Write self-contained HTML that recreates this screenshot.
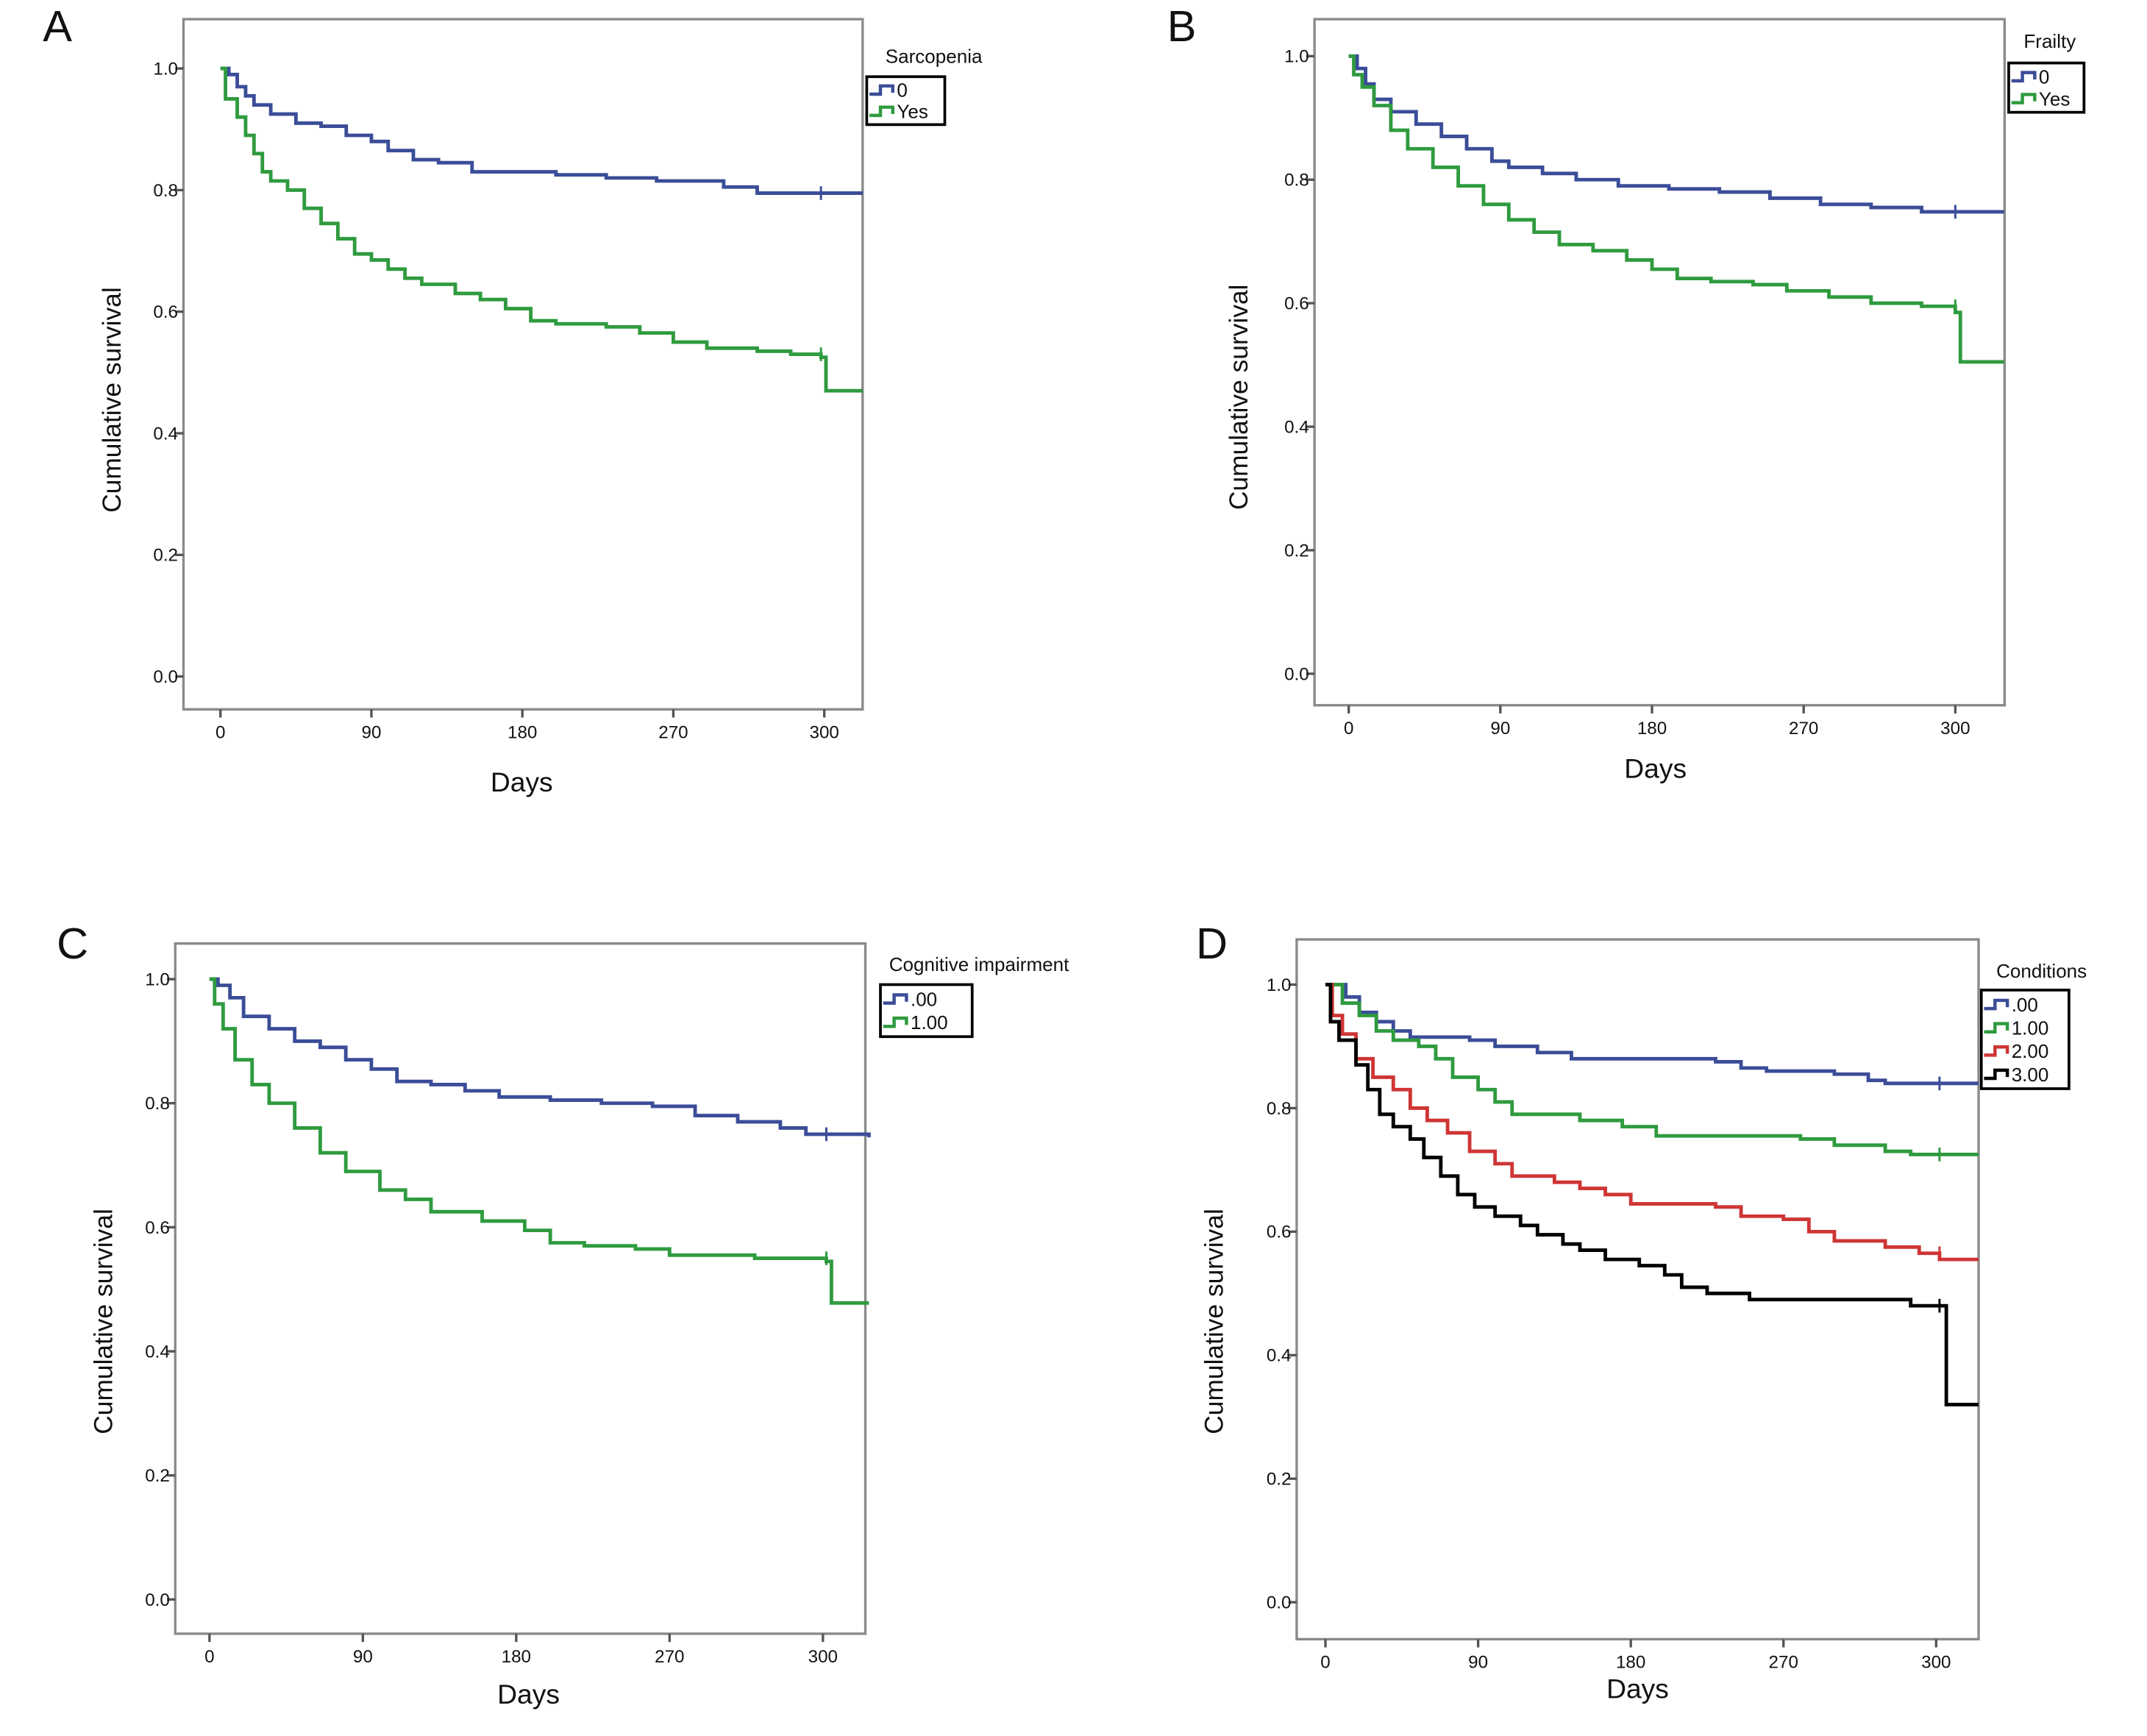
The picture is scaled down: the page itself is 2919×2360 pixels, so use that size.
<!DOCTYPE html>
<html><head><meta charset="utf-8"><style>
html,body{margin:0;padding:0;background:#fff;}
svg{display:block;}
text{font-family:"Liberation Sans",sans-serif;fill:#111;}
</style></head><body>
<svg id="fig" width="2919" height="2360" viewBox="0 0 1568 1267.7" preserveAspectRatio="none" xmlns="http://www.w3.org/2000/svg"></svg>
<script>
// ---- data (days, cumulative survival) ----
const tickValues = [0, 90, 180, 270, 360];
const tickLabels = ["0", "90", "180", "270", "300"];
const yTicks = [0.0, 0.2, 0.4, 0.6, 0.8, 1.0];
const yTickLabels = ["0.0", "0.2", "0.4", "0.6", "0.8", "1.0"];

const aNo = [[0,1],[5,0.99],[10,0.97],[15,0.955],[20,0.94],[30,0.925],[45,0.91],[60,0.905],[75,0.89],[90,0.88],[100,0.865],[115,0.85],[130,0.845],[150,0.83],[200,0.825],[230,0.82],[260,0.815],[300,0.805],[320,0.795],[383,0.795]];
const aYes = [[0,1],[3,0.95],[10,0.92],[15,0.89],[20,0.86],[25,0.83],[30,0.815],[40,0.8],[50,0.77],[60,0.745],[70,0.72],[80,0.695],[90,0.685],[100,0.67],[110,0.655],[120,0.645],[140,0.63],[155,0.62],[170,0.605],[185,0.585],[200,0.58],[230,0.575],[250,0.565],[270,0.55],[290,0.54],[320,0.535],[340,0.53],[358,0.525],[361,0.47],[383,0.47]];

const bNo = [[0,1],[5,0.98],[10,0.955],[15,0.93],[25,0.91],[40,0.89],[55,0.87],[70,0.85],[85,0.83],[95,0.82],[115,0.81],[135,0.80],[160,0.79],[190,0.785],[220,0.78],[250,0.77],[280,0.76],[310,0.755],[340,0.748],[389,0.748]];
const bYes = [[0,1],[3,0.97],[8,0.95],[15,0.92],[25,0.88],[35,0.85],[50,0.82],[65,0.79],[80,0.76],[95,0.735],[110,0.715],[125,0.695],[145,0.685],[165,0.67],[180,0.655],[195,0.64],[215,0.635],[240,0.63],[260,0.62],[285,0.61],[310,0.6],[340,0.595],[360,0.585],[363,0.505],[389,0.505]];

const cNo = [[0,1],[5,0.99],[12,0.97],[20,0.94],[35,0.92],[50,0.9],[65,0.89],[80,0.87],[95,0.855],[110,0.835],[130,0.83],[150,0.82],[170,0.81],[200,0.805],[230,0.80],[260,0.795],[285,0.78],[310,0.77],[335,0.76],[350,0.75],[387,0.745]];
const cYes = [[0,1],[3,0.96],[8,0.92],[15,0.87],[25,0.83],[35,0.80],[50,0.76],[65,0.72],[80,0.69],[100,0.66],[115,0.645],[130,0.625],[160,0.61],[185,0.595],[200,0.575],[220,0.57],[250,0.565],[270,0.555],[320,0.55],[362,0.545],[365,0.478],[387,0.478]];

const d0 = [[0,1],[8,1],[12,0.98],[20,0.955],[30,0.94],[40,0.925],[50,0.915],[85,0.91],[100,0.90],[125,0.89],[145,0.88],[230,0.875],[245,0.865],[260,0.86],[300,0.855],[320,0.845],[330,0.84],[385,0.84]];
const d1 = [[0,1],[10,0.97],[20,0.95],[30,0.925],[40,0.91],[55,0.90],[65,0.88],[75,0.85],[90,0.83],[100,0.81],[110,0.79],[150,0.78],[175,0.77],[195,0.755],[280,0.75],[300,0.74],[330,0.73],[345,0.725],[385,0.725]];
const d2 = [[0,1],[4,0.95],[10,0.92],[18,0.88],[28,0.85],[40,0.83],[50,0.80],[60,0.78],[72,0.76],[85,0.73],[100,0.71],[110,0.69],[135,0.68],[150,0.67],[165,0.66],[180,0.645],[230,0.64],[245,0.625],[270,0.62],[285,0.60],[300,0.585],[330,0.575],[350,0.565],[362,0.555],[385,0.555]];
const d3 = [[0,1],[3,0.94],[8,0.91],[18,0.87],[25,0.83],[32,0.79],[40,0.77],[50,0.75],[58,0.72],[68,0.69],[78,0.66],[88,0.64],[100,0.625],[115,0.61],[125,0.595],[140,0.58],[150,0.57],[165,0.555],[185,0.545],[200,0.53],[210,0.51],[225,0.50],[250,0.49],[345,0.48],[366,0.32],[385,0.32]];

const panels = [
  {id:"a", letter:"A", lx:42, ly:30, L:134, R:630, T:14, B:518, x0:161, x360:602, y1:50, y0:494,
   title:"Sarcopenia", tx:682, ty:46, box:[633,56,690,91], labels:["0","Yes"],
   series:[aNo,aYes], colors:["#3b4d98","#2f9b3f"], censor:[358,358], xt:[381,578], yt:[88,292]},
  {id:"b", letter:"B", lx:863, ly:30, L:960, R:1464, T:14, B:515, x0:985, x360:1428, y1:41, y0:492,
   title:"Frailty", tx:1497, ty:35, box:[1467,46,1522,82], labels:["0","Yes"],
   series:[bNo,bYes], colors:["#3b4d98","#2f9b3f"], censor:[360,360], xt:[1209,568], yt:[911,290]},
  {id:"c", letter:"C", lx:53, ly:700, L:128, R:632, T:689, B:1193, x0:153, x360:601, y1:715, y0:1168,
   title:"Cognitive impairment", tx:715, ty:709, box:[643,719,710,757], labels:[".00","1.00"],
   series:[cNo,cYes], colors:["#3b4d98","#2f9b3f"], censor:[362,362], xt:[386,1244], yt:[82,965]},
  {id:"d", letter:"D", lx:885, ly:700, L:947, R:1445, T:686, B:1197, x0:968, x360:1414, y1:719, y0:1170,
   title:"Conditions", tx:1491, ty:714, box:[1447,723,1511,795], labels:[".00","1.00","2.00","3.00"],
   series:[d0,d1,d2,d3], colors:["#3b4d98","#2f9b3f","#cf3535","#000000"], censor:[362,362,362,362], xt:[1196,1240], yt:[893,965]}
];

const NS = "http://www.w3.org/2000/svg";
const svg = document.getElementById("fig");
function mk(tag, attrs, parent, txt){
  const e = document.createElementNS(NS, tag);
  for (const k in attrs) e.setAttribute(k, attrs[k]);
  if (txt !== undefined) e.textContent = txt;
  (parent || svg).appendChild(e);
  return e;
}

panels.forEach(p => {
  const g = mk("g", {});
  
  
  const xs = d => p.x0 + (p.x360 - p.x0) * d / 360;
  const ys = s => p.y0 + (p.y1 - p.y0) * s;

  const lt = mk("text", {x:p.lx, y:p.ly, "font-size":32, "text-anchor":"middle"}, g, p.letter);
  
  

  const fr = mk("rect", {x:p.L, y:p.T, width:p.R-p.L, height:p.B-p.T, fill:"#fff", stroke:"#8a8a8a", "stroke-width":1.8}, g);
  
  

  yTicks.forEach((v,i) => {
    const y = ys(v);
    const tk = mk("line", {x1:p.L-6, x2:p.L, y1:y, y2:y, stroke:"#555", "stroke-width":1.8}, g);
    
    
    const tl = mk("text", {x:p.L-4, y:y+4.5, "font-size":13, "text-anchor":"end"}, g, yTickLabels[i]);
    
    
  });
  tickValues.forEach((v,i) => {
    const x = xs(v);
    const tk = mk("line", {x1:x, x2:x, y1:p.B, y2:p.B+6, stroke:"#555", "stroke-width":1.8}, g);
    
    
    const tl = mk("text", {x:x, y:p.B+21, "font-size":13, "text-anchor":"middle"}, g, tickLabels[i]);
    
    
  });

  const xt = mk("text", {x:p.xt[0], y:p.xt[1], "font-size":20, "text-anchor":"middle"}, g, "Days");
  
  
  const yt = mk("text", {x:0, y:0, "font-size":19, "text-anchor":"middle", transform:`translate(${p.yt[0]},${p.yt[1]}) rotate(-90)`}, g, "Cumulative survival");
  
  

  p.series.forEach((ser, si) => {
    let d = `M${xs(ser[0][0])},${ys(ser[0][1])}`;
    for (let i = 1; i < ser.length; i++) {
      d += ` H${xs(ser[i][0])} V${ys(ser[i][1])}`;
    }
    const path = mk("path", {d:d, fill:"none", stroke:p.colors[si], "stroke-width":2.6}, g);
    
    
    const cd = p.censor[si];
    let sv = ser[0][1];
    for (const pt of ser) { if (pt[0] <= cd - 4) sv = pt[1]; }
    const cm = mk("line", {x1:xs(cd), x2:xs(cd), y1:ys(sv)-5, y2:ys(sv)+5, stroke:p.colors[si], "stroke-width":1.6}, g);
    
    
  });

  const lg = mk("g", {}, g);
  
  
  const ttl = mk("text", {x:p.tx, y:p.ty, "font-size":14, "text-anchor":"middle"}, lg, p.title);
  
  
  const [bx0,by0,bx1,by1] = p.box;
  const bx = mk("rect", {x:bx0, y:by0, width:bx1-bx0, height:by1-by0, fill:"#fff", stroke:"#000", "stroke-width":2}, lg);
  
  
  const step = (by1 - by0 - 4) / p.labels.length;
  p.labels.forEach((lab, i) => {
    const cy = by0 + 2 + step * (i + 0.5);
    const ic = mk("path", {d:`M${bx0+2},${cy+3} H${bx0+10} V${cy-3} H${bx0+19} V${cy+2}`, fill:"none", stroke:p.colors[i], "stroke-width":2.4}, lg);
    
    
    const lt2 = mk("text", {x:bx0+22, y:cy+5, "font-size":14}, lg, lab);
    
    
  });
});
</script>
</body></html>
